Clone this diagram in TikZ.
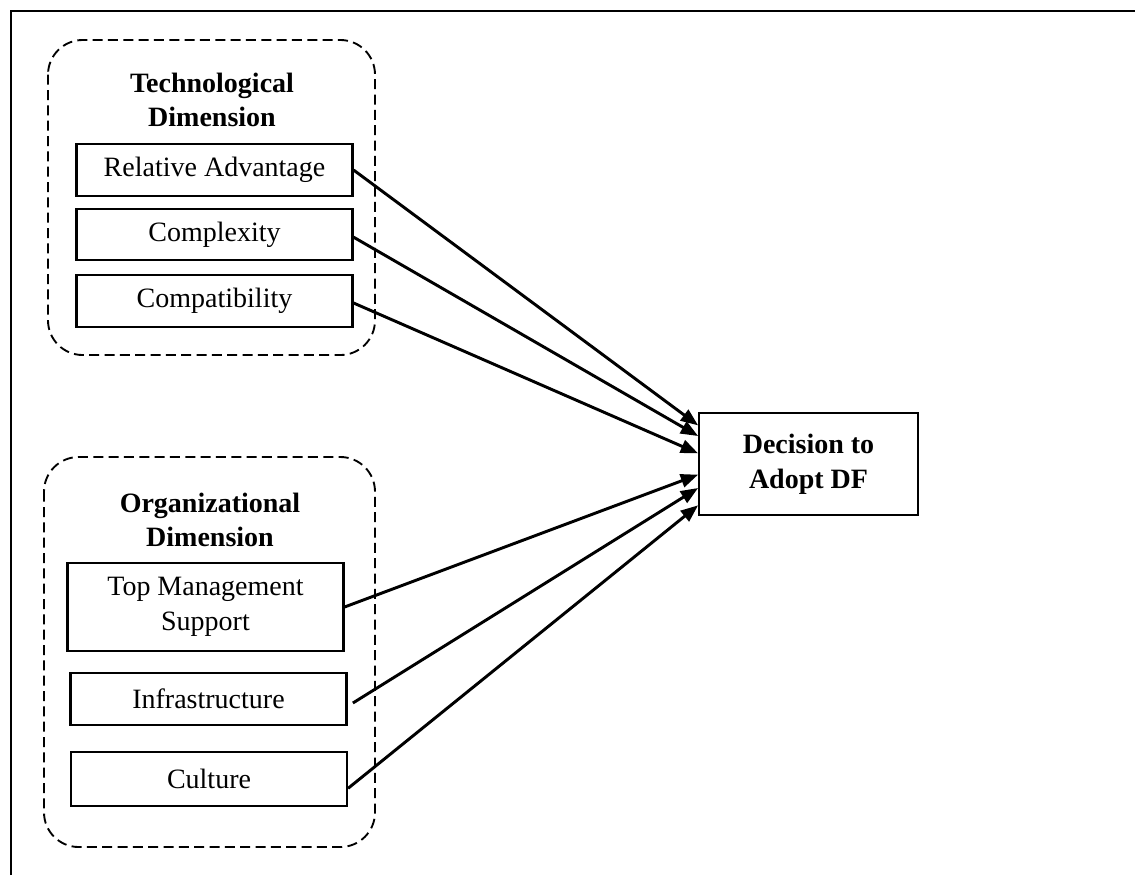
\documentclass[tikz,border=0pt]{standalone}
\usepackage{fontspec}
\setmainfont{Liberation Serif}
\usetikzlibrary{arrows.meta}

\begin{document}
\begin{tikzpicture}[x=0.75pt,y=-0.75pt,
    every node/.style={font=\fontsize{21}{26}\selectfont},
    factor/.style={draw,line width=1.6pt,minimum width=207pt,inner sep=0pt},
    group/.style={draw,dashed,dash pattern=on 7.5pt off 4pt,line width=1.4pt,rounded corners=26pt},
    outcome/.style={draw,line width=1.6pt,minimum width=164pt,minimum height=76pt,align=center,font=\fontsize{21}{26}\selectfont\bfseries},
    link/.style={line width=2.2pt,-{Triangle[length=13pt,width=10pt]}}]

    \useasboundingbox (0,0) rectangle (1135,875);

    % frame
    \draw[line width=1.8pt] (11,875) -- (11,11) -- (1135,11);

    % technological dimension
    \draw[group] (48,40) rectangle (375,355);
    \node[align=center,font=\fontsize{21}{26}\selectfont\bfseries] (tech) at (212,100) {Technological\\Dimension};

    \node[factor,minimum height=39pt] (ra) at (214.5,170) {Relative Advantage};
    \node[factor,minimum height=38pt] (cx) at (214.5,234.5) {Complexity};
    \node[factor,minimum height=39pt] (cp) at (214.5,301) {Compatibility};

    % organizational dimension
    \draw[group] (44,457) rectangle (375,847);
    \node[align=center,font=\fontsize{21}{26}\selectfont\bfseries] (org) at (210,520) {Organizational\\Dimension};

    \node[factor,minimum height=66pt,align=center] (tms) at (205.5,607) {Top Management\\Support};
    \node[factor,minimum height=39pt] (inf) at (208.5,699) {Infrastructure};
    \node[factor,minimum height=40pt] (cul) at (209,779) {Culture};

    % outcome
    \node[outcome] (dec) at (808.5,464) {Decision to\\Adopt DF};

    % links
    \draw[link] (ra.east) -- ([yshift=29pt]dec.west);
    \draw[link] ([yshift=-2pt]cx.east) -- ([yshift=21pt]dec.west);
    \draw[link] ([yshift=-1.5pt]cp.east) -- ([yshift=8pt]dec.west);
    \draw[link] (tms.east) -- ([yshift=-8pt]dec.west);
    \draw[link] ([xshift=4pt,yshift=-3pt]inf.east) -- ([yshift=-18pt]dec.west);
    \draw[link] ([yshift=-7pt]cul.east) -- ([yshift=-31pt]dec.west);

\end{tikzpicture}
\end{document}
